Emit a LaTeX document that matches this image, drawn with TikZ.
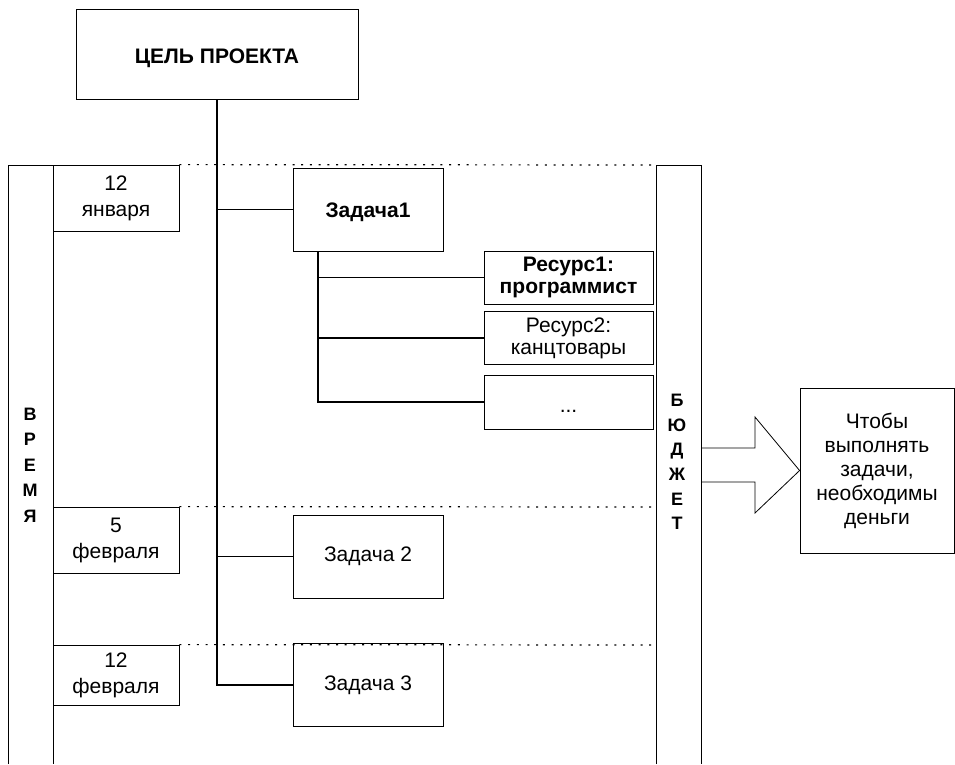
\documentclass[tikz,border=0pt]{standalone}
\usepackage{fontspec}
\setmainfont{Liberation Sans}
\usetikzlibrary{positioning}

\newcommand{\txtfont}{\fontsize{21}{24}\selectfont}
\newcommand{\lowered}[2]{\raisebox{-#1}[\height][\depth]{#2}}

\begin{document}
\begin{tikzpicture}[x=1pt, y=-1pt, every node/.style={font=\txtfont, align=center, inner sep=0pt}, box/.style={draw, line width=.8pt}, task/.style={box, minimum width=150pt, minimum height=83pt}, res/.style={box, minimum width=169pt, minimum height=53pt}, date/.style={box, minimum width=126pt, minimum height=66pt, font=\fontsize{21}{26}\selectfont}, link/.style={line width=1.3pt}, grid/.style={line width=1.2pt, dash pattern=on 2pt off 6.7pt}, strip/.style={line width=.8pt}]
    \useasboundingbox (0,0) rectangle (955,764);

    \node[box, minimum width=282pt, minimum height=90pt, font=\txtfont\bfseries] (goal) at (217,54) {\lowered{4pt}{ЦЕЛЬ ПРОЕКТА}};

    % time and budget strips
    \draw[strip] (8,764) -- (8,165) -- (53,165) -- (53,764);
    \draw[strip] (656,764) -- (656,165) -- (701,165) -- (701,764);
    \node[font=\fontsize{18}{25.5}\selectfont\bfseries] (time) at (30,465) {В\\Р\\Е\\М\\Я};
    \node[font=\fontsize{18}{24.6}\selectfont\bfseries] (budget) at (677,462) {Б\\Ю\\Д\\Ж\\Е\\Т};

    % dates
    \node[date] (jan12) at (116,198) {12\\января};
    \node[date] (feb5) at (116,540) {5\\февраля};
    \node[date, minimum height=60pt] (feb12) at (116,675) {12\\февраля};

    \draw[grid] (jan12.north east) -- (656,165);
    \draw[grid] (feb5.north east) -- (656,507);
    \draw[grid] (feb12.north east) -- (656,645);

    % tasks
    \node[task, font=\txtfont\bfseries] (task1) at (368,209.5) {\lowered{3pt}{Задача1}};
    \node[task] (task2) at (368,556.5) {Задача 2};
    \node[task] (task3) at (368,685) {Задача 3};

    \node[res, font=\fontsize{21}{22}\selectfont\bfseries] (res1) at (568.5,277.5) {Ресурс1:\\программист};
    \node[res, font=\fontsize{21}{22}\selectfont] (res2) at (568.5,338) {Ресурс2:\\канцтовары};
    \node[res, minimum height=54pt] (more) at (568.5,402) {\lowered{9pt}{...}};

    \draw[link] (goal.south) |- (task3.west);
    \draw[link] (task1.west -| goal.south) -- (task1.west);
    \draw[link] (task2.west -| goal.south) -- (task2.west);

    \coordinate (sub) at ([xshift=-50pt]task1.south);
    \draw[link] (sub) |- (more.west);
    \draw[link] (sub |- res1.west) -- (res1.west);
    \draw[link] (sub |- res2.west) -- (res2.west);

    % money
    \node[box, minimum width=154pt, minimum height=165pt] (note) at (877,470.5) {Чтобы\\выполнять\\задачи,\\необходимы\\деньги};
    \draw[line width=.8pt] (701,448) -- (755,448) -- (755,417) -- (note.west) -- (755,513) -- (755,482) -- (701,482);
\end{tikzpicture}
\end{document}
